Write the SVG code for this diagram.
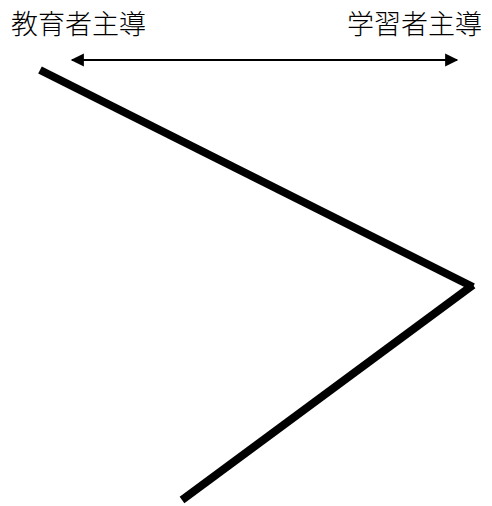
<svg xmlns="http://www.w3.org/2000/svg" width="492" height="506" viewBox="0 0 492 506">
<style>
.lbl{font-family:"Noto Sans CJK JP","Noto Sans CJK SC",sans-serif;font-size:27px;font-weight:300;fill:#000}
.thick{stroke:#000;stroke-width:8;fill:none}
.arr{stroke:#000;stroke-width:2.2;fill:none}
</style>
<defs>
<marker id="ah" viewBox="0 0 10 10" refX="9" refY="5" markerWidth="7" markerHeight="6" markerUnits="strokeWidth" orient="auto-start-reverse">
<path d="M0,0 L10,5 L0,10 Z" fill="#000"/>
</marker>
</defs>
<g id="label-left"><text class="lbl" x="11" y="34">教育者主導</text></g>
<g id="label-right"><text class="lbl" x="347" y="34">学習者主導</text></g>
<g id="connectors">
<line class="arr" x1="72" y1="60" x2="457" y2="60" marker-start="url(#ah)" marker-end="url(#ah)"/>
<line class="thick" x1="40" y1="70" x2="473" y2="287"/>
<line class="thick" x1="473" y1="285" x2="182" y2="500"/>
</g>
</svg>
